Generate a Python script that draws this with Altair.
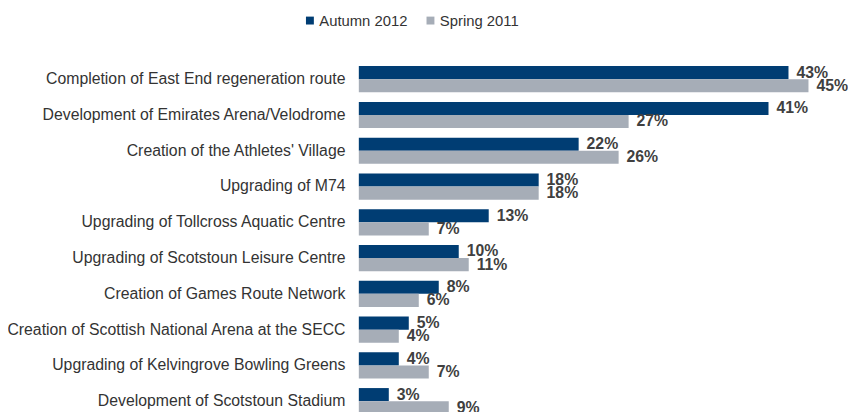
import altair as alt
import pandas as pd

categories = [
    "Completion of East End regeneration route",
    "Development of Emirates Arena/Velodrome",
    "Creation of the Athletes' Village",
    "Upgrading of M74",
    "Upgrading of Tollcross Aquatic Centre",
    "Upgrading of Scotstoun Leisure Centre",
    "Creation of Games Route Network",
    "Creation of Scottish National Arena at the SECC",
    "Upgrading of Kelvingrove Bowling Greens",
    "Development of Scotstoun Stadium",
]
autumn_2012 = [43, 41, 22, 18, 13, 10, 8, 5, 4, 3]
spring_2011 = [45, 27, 26, 18, 7, 11, 6, 4, 7, 9]
series_names = ["Autumn 2012", "Spring 2011"]
series_colors = ["#003D73", "#A6ADB7"]

rows = []
for c, a, s in zip(categories, autumn_2012, spring_2011):
    rows.append({"cat": c, "series": series_names[0], "value": a, "label": f"{a}%"})
    rows.append({"cat": c, "series": series_names[1], "value": s, "label": f"{s}%"})
df = pd.DataFrame(rows)

FONT = "Liberation Sans"

y_enc = alt.Y("cat:N", sort=categories,
              scale=alt.Scale(paddingInner=0.267, paddingOuter=0.1335),
              axis=alt.Axis(title=None, ticks=False, domain=False, labelPadding=14,
                            labelFontSize=16, labelColor="#333333", labelFont=FONT,
                            labelLimit=400))
yoff = alt.YOffset("series:N", sort=series_names)
x_enc = alt.X("value:Q", scale=alt.Scale(domain=[0, 45], nice=False), axis=None)

bars = alt.Chart(df).mark_bar().encode(
    x=x_enc, y=y_enc, yOffset=yoff,
    color=alt.Color("series:N", sort=series_names,
                    scale=alt.Scale(domain=series_names, range=series_colors),
                    legend=alt.Legend(title=None, orient="none", direction="horizontal",
                                      legendX=-57, legendY=-49, symbolType="square",
                                      symbolSize=64, symbolStrokeWidth=0,
                                      labelFontSize=15, labelColor="#333333",
                                      labelFont=FONT, labelOffset=2, columnPadding=15)),
)

texts = alt.Chart(df).mark_text(align="left", baseline="middle", dx=8, fontSize=16,
                                fontWeight="bold", color="#404040", font=FONT).encode(
    x=x_enc, y=y_enc, yOffset=yoff, text="label:N")

chart = (bars + texts).properties(
    width=455, height=362,
    autosize=alt.AutoSizeParams(type="none"),
    padding={"left": 355, "top": 51.5, "right": 40, "bottom": 0},
).configure_view(stroke=None)

chart.save("out.html", embed_options={"renderer": "svg", "actions": False})
